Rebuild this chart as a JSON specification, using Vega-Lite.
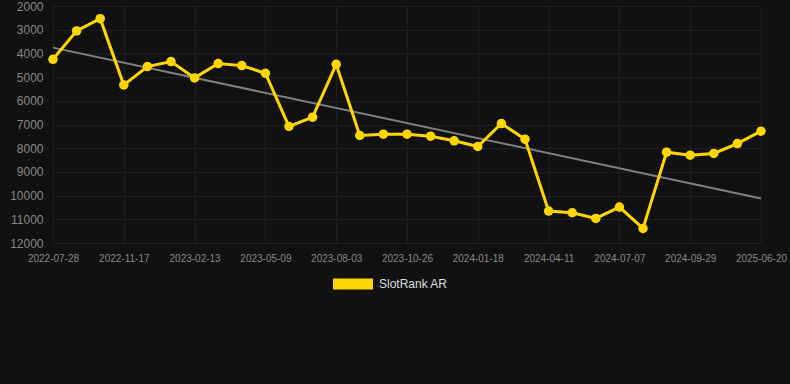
{
  "$schema": "https://vega.github.io/schema/vega-lite/v6.json",
  "autosize": "none",
  "width": 708,
  "height": 237,
  "padding": {"left": 53, "top": 6, "right": 29, "bottom": 141},
  "background": "#111111",
  "config": {
    "view": {"stroke": null},
    "font": "Liberation Sans, Arial, sans-serif"
  },
  "data": {
    "values": [
      {"i": 0, "date": "2022-07-28", "rank": 4250},
      {"i": 1, "date": "2022-09-04", "rank": 3050},
      {"i": 2, "date": "2022-10-11", "rank": 2535},
      {"i": 3, "date": "2022-11-17", "rank": 5330},
      {"i": 4, "date": "2022-12-16", "rank": 4557},
      {"i": 5, "date": "2023-01-14", "rank": 4346},
      {"i": 6, "date": "2023-02-13", "rank": 5034},
      {"i": 7, "date": "2023-03-13", "rank": 4430},
      {"i": 8, "date": "2023-04-10", "rank": 4515},
      {"i": 9, "date": "2023-05-09", "rank": 4837},
      {"i": 10, "date": "2023-06-06", "rank": 7085},
      {"i": 11, "date": "2023-07-05", "rank": 6690},
      {"i": 12, "date": "2023-08-03", "rank": 4459},
      {"i": 13, "date": "2023-08-31", "rank": 7464},
      {"i": 14, "date": "2023-09-28", "rank": 7408},
      {"i": 15, "date": "2023-10-26", "rank": 7408},
      {"i": 16, "date": "2023-11-23", "rank": 7492},
      {"i": 17, "date": "2023-12-21", "rank": 7689},
      {"i": 18, "date": "2024-01-18", "rank": 7928},
      {"i": 19, "date": "2024-02-15", "rank": 6959},
      {"i": 20, "date": "2024-03-14", "rank": 7618},
      {"i": 21, "date": "2024-04-11", "rank": 10653},
      {"i": 22, "date": "2024-05-09", "rank": 10723},
      {"i": 23, "date": "2024-06-08", "rank": 10963},
      {"i": 24, "date": "2024-07-07", "rank": 10484},
      {"i": 25, "date": "2024-08-04", "rank": 11385},
      {"i": 26, "date": "2024-09-01", "rank": 8167},
      {"i": 27, "date": "2024-09-29", "rank": 8293},
      {"i": 28, "date": "2024-12-15", "rank": 8222},
      {"i": 29, "date": "2025-03-18", "rank": 7803},
      {"i": 30, "date": "2025-06-20", "rank": 7282}
    ]
  },
  "encoding": {
    "x": {
      "field": "i",
      "type": "quantitative",
      "scale": {"domain": [0, 30], "nice": false, "zero": false},
      "axis": {
        "title": null,
        "values": [0, 3, 6, 9, 12, 15, 18, 21, 24, 27, 30],
        "labelExpr": "['2022-07-28','2022-11-17','2023-02-13','2023-05-09','2023-08-03','2023-10-26','2024-01-18','2024-04-11','2024-07-07','2024-09-29','2025-06-20'][round(datum.value/3)]",
        "labelColor": "#888888",
        "labelFontSize": 10,
        "labelPadding": 10,
        "labelFlush": false,
        "labelOverlap": false,
        "ticks": false,
        "domain": false,
        "grid": true,
        "gridColor": "#1f1f1f",
        "gridWidth": 1
      }
    },
    "y": {
      "field": "rank",
      "type": "quantitative",
      "scale": {"domain": [2000, 12000], "reverse": true, "nice": false, "zero": false},
      "axis": {
        "title": null,
        "values": [2000, 3000, 4000, 5000, 6000, 7000, 8000, 9000, 10000, 11000, 12000],
        "format": "d",
        "labelColor": "#888888",
        "labelFontSize": 12,
        "labelPadding": 10,
        "ticks": false,
        "domain": false,
        "grid": true,
        "gridColor": "#1f1f1f",
        "gridWidth": 1
      }
    }
  },
  "layer": [
    {
      "transform": [{"regression": "rank", "on": "i"}],
      "mark": {"type": "line", "color": "#808080", "strokeWidth": 2}
    },
    {
      "mark": {"type": "line", "color": "#FFD700", "strokeWidth": 3}
    },
    {
      "mark": {"type": "point", "filled": true, "opacity": 1, "size": 90},
      "encoding": {
        "color": {
          "datum": "SlotRank AR",
          "scale": {"range": ["#FFD700"]},
          "legend": {
            "title": null,
            "orient": "none",
            "legendX": 280,
            "legendY": 258,
            "padding": 0,
            "symbolType": "M-1,-0.275L1,-0.275L1,0.275L-1,0.275Z",
            "symbolSize": 1600,
            "symbolOpacity": 1,
            "symbolStrokeWidth": 0,
            "labelColor": "#dddddd",
            "labelFontSize": 12,
            "labelOffset": 6
          }
        }
      }
    }
  ]
}
